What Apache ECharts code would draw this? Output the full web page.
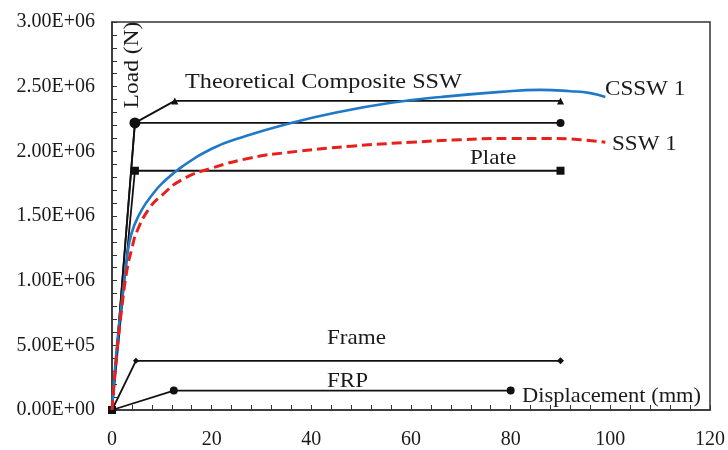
<!DOCTYPE html>
<html>
<head>
<meta charset="utf-8">
<script src="https://cdn.jsdelivr.net/npm/echarts@6/dist/echarts.min.js"></script>
<style>
html, body { margin: 0; padding: 0; background: #fff; }
#main { width: 728px; height: 450px; }
</style>
</head>
<body>
<div id="main"></div>
<script>
var dom = document.getElementById('main');
var myChart = echarts.init(dom, null, { renderer: 'canvas' });

// measured curves (displacement mm, load N)
const cssw1 = [[0,0],[1,0.5e6],[2,0.85e6],[2.8,1.1e6],[3.5,1.3e6],[4.5,1.43e6],[6,1.55e6],[8,1.66e6],[10,1.75e6],[14,1.88e6],[20,2.02e6],[27,2.12e6],[35,2.21e6],[45,2.30e6],[56,2.375e6],[66,2.42e6],[78,2.46e6],[86,2.475e6],[92,2.465e6],[96,2.45e6],[99,2.42e6]];
const ssw1 = [[0,0],[1,0.45e6],[2,0.8e6],[3,1.08e6],[4,1.25e6],[5,1.38e6],[7.5,1.56e6],[10,1.66e6],[14,1.78e6],[20,1.87e6],[28,1.95e6],[35,1.99e6],[48,2.04e6],[60,2.07e6],[70,2.09e6],[80,2.10e6],[88,2.10e6],[94,2.09e6],[99,2.07e6]];

// theoretical components
const theory = [[0,0],[4.6,2.22e6],[12.6,2.39e6],[90,2.39e6]];
const peak = [[0,0],[4.6,2.22e6],[90,2.22e6]];
const plate = [[0,0],[4.6,1.85e6],[90,1.85e6]];
const frame = [[0,0],[4.8,3.8e5],[90,3.8e5]];
const frp = [[0,0],[12.4,1.5e5],[80,1.5e5]];

const xTicks = [0, 20, 40, 60, 80, 100, 120];
const yMax = 3e6;

const font = 'Liberation Serif';
const ink = '#1a1a1a';

function sci(v) {
    var parts = v.toExponential(2).split('e');
    var e = parseInt(parts[1], 10);
    var sign = e < 0 ? '-' : '+';
    var abs = Math.abs(e);
    return parts[0] + 'E' + sign + (abs < 10 ? '0' + abs : abs);
}

function blackLine(name, data, symbol, sizes) {
    return {
        name: name,
        type: 'line',
        data: data,
        symbol: symbol,
        symbolSize: function (val, params) { return sizes[params.dataIndex]; },
        showSymbol: true,
        itemStyle: { color: '#111' },
        lineStyle: { color: '#111', width: 1.8 },
        z: 3
    };
}

function label(text, x, y, size, stretch, rotation) {
    return {
        type: 'text',
        x: x,
        y: y,
        rotation: rotation || 0,
        scaleX: stretch || 1,
        style: {
            text: text,
            font: (size || 22) + 'px "' + font + '"',
            fill: ink,
            textVerticalAlign: 'middle',
            textAlign: rotation ? 'center' : 'left'
        },
        z: 10
    };
}

var option = {
    animation: false,
    backgroundColor: '#fff',
    grid: {
        left: 112,
        right: 18,
        top: 22,
        bottom: 40,
        show: true,
        borderColor: '#333',
        borderWidth: 1.5
    },
    xAxis: {
        type: 'value',
        min: xTicks[0],
        max: xTicks[xTicks.length - 1],
        interval: 20,
        axisLine: { show: true, lineStyle: { color: '#333', width: 1.5 } },
        axisTick: { show: true, inside: true, length: 5, lineStyle: { color: '#333' } },
        minorTick: { show: true, splitNumber: 5, length: 5, lineStyle: { color: '#333' } },
        splitLine: { show: false },
        axisLabel: { color: ink, fontFamily: font, fontSize: 20, margin: 20 }
    },
    yAxis: {
        type: 'value',
        min: 0,
        max: yMax,
        interval: 5e5,
        axisLine: { show: true, lineStyle: { color: '#333', width: 1.5 } },
        axisTick: { show: true, inside: true, length: 5, lineStyle: { color: '#333' } },
        minorTick: { show: true, splitNumber: 5, length: 5, lineStyle: { color: '#333' } },
        splitLine: { show: false },
        axisLabel: { color: ink, fontFamily: font, fontSize: 20, margin: 17, formatter: sci }
    },
    series: [
        blackLine('Theoretical Composite SSW', theory, 'triangle', [0, 0, 7, 7]),
        blackLine('Peak', peak, 'circle', [0, 11, 8]),
        blackLine('Plate', plate, 'rect', [8, 8, 8]),
        blackLine('Frame', frame, 'diamond', [0, 6, 7]),
        blackLine('FRP', frp, 'circle', [0, 8, 8]),
        {
            name: 'CSSW 1',
            type: 'line',
            data: cssw1,
            smooth: 0.5,
            showSymbol: false,
            lineStyle: { color: '#1f78c8', width: 2.6 },
            z: 4
        },
        {
            name: 'SSW 1',
            type: 'line',
            data: ssw1,
            smooth: 0.5,
            showSymbol: false,
            lineStyle: { color: '#e8201c', width: 3, type: [10, 5] },
            z: 4
        }
    ],
    graphic: [
        label('Theoretical Composite SSW', 185, 82, 22, 1.1),
        label('CSSW 1', 605, 89, 22, 1.05),
        label('SSW 1', 612, 144, 22, 1.05),
        label('Plate', 470, 158, 22, 1.05),
        label('Frame', 327, 338, 22, 1.05),
        label('FRP', 327, 381, 22, 1.05),
        label('Displacement (mm)', 522, 396, 21, 1.07),
        label('Load (N)', 132, 65, 21, 1.12, Math.PI / 2)
    ]
};

myChart.setOption(option);
window.addEventListener('resize', myChart.resize);
</script>
</body>
</html>
